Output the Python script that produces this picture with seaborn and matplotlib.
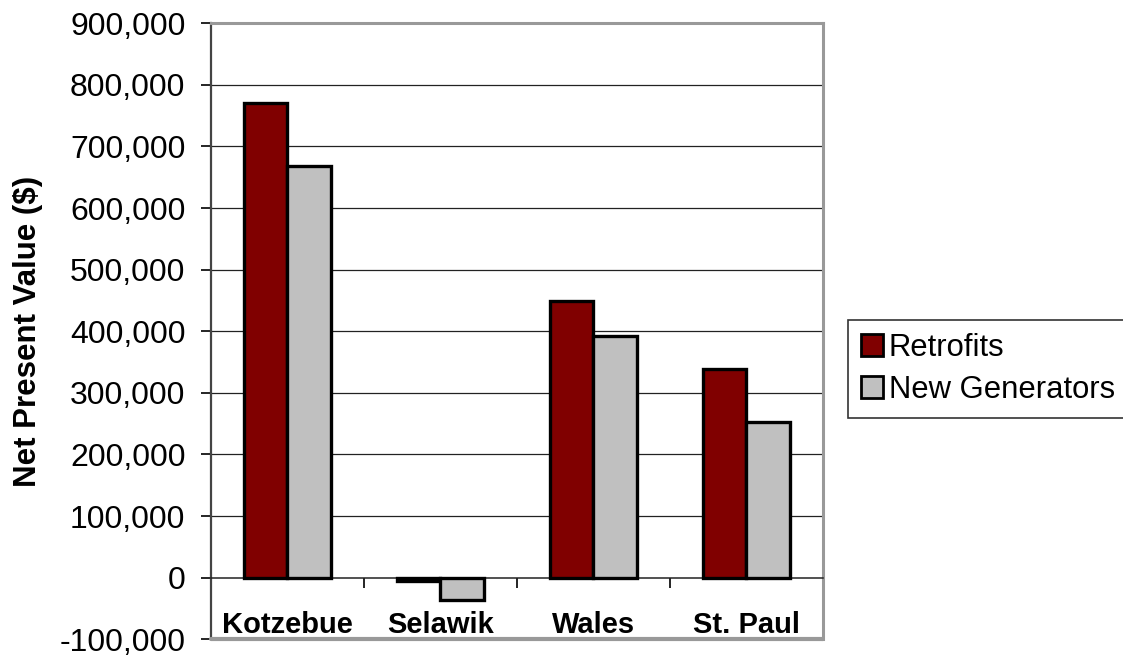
import matplotlib
matplotlib.use("Agg")
import matplotlib.pyplot as plt
import seaborn as sns
import pandas as pd
from matplotlib.ticker import FuncFormatter, FixedLocator

sites = ["Kotzebue", "Selawik", "Wales", "St. Paul"]
series = ["Retrofits", "New Generators"]
retrofits = [771000, -5000, 449000, 338000]
new_generators = [669000, -36000, 392000, 252000]
colors = ["#800000", "#C0C0C0"]

df = pd.DataFrame({
    "site": sites * 2,
    "series": [series[0]] * 4 + [series[1]] * 4,
    "value": retrofits + new_generators,
})

sns.set_style("white")
plt.rcParams["font.family"] = ["Liberation Sans", "DejaVu Sans"]

fig = plt.figure(figsize=(11.23, 6.56), dpi=100)
ax = fig.add_axes([210.7 / 1123, 1 - 639.3 / 656, (822.7 - 210.7) / 1123, (639.3 - 23.3) / 656])

sns.barplot(data=df, x="site", y="value", hue="series", palette=colors,
            width=0.57, edgecolor="black", linewidth=2.4, ax=ax, saturation=1,
            errorbar=None, zorder=3)

ax.set_ylim(-100000, 900000)
ax.set_xlim(-0.5, 3.5)
ax.set_yticks(range(-100000, 900001, 100000))
ax.yaxis.set_major_formatter(FuncFormatter(lambda v, p: f"{v:,.0f}"))
ax.tick_params(axis="y", labelsize=23, length=7.2, width=1.2, pad=11, color="black",
               direction="out", left=True, labelcolor="black")
for y in range(100000, 900001, 100000):
    ax.axhline(y, color="#222222", linewidth=0.9, zorder=1)

# x axis at zero
ax.spines["bottom"].set_position(("data", 0))
ax.spines["bottom"].set_color("#222222")
ax.spines["bottom"].set_linewidth(1.1)
ax.spines["left"].set_color("#444444")
ax.spines["left"].set_linewidth(1.6)
for s in ["top", "right"]:
    ax.spines[s].set_color("#999999")
    ax.spines[s].set_linewidth(2.2)
ax.axhline(-100000, color="#999999", linewidth=3.0, zorder=4, clip_on=False)

ax.set_xticks(range(len(sites)))
ax.set_xticklabels(sites, fontsize=21, fontweight="bold", color="black")
ax.tick_params(axis="x", which="major", length=0, pad=24)
ax.xaxis.set_minor_locator(FixedLocator([0.5, 1.5, 2.5]))
ax.tick_params(axis="x", which="minor", length=7.2, width=1.2, direction="out",
               color="black", bottom=True)

ax.set_xlabel("")
ax.set_ylabel("Net Present Value ($)", fontsize=22.5, fontweight="bold", labelpad=12,
              color="black")

leg = ax.legend(loc="center left", bbox_to_anchor=(848 / 1123, 1 - 369 / 656),
                bbox_transform=fig.transFigure, fontsize=22.3, frameon=True,
                fancybox=False, edgecolor="black", handlelength=0.72,
                handleheight=0.72, handletextpad=0.18, borderpad=0.42,
                labelspacing=0.38, borderaxespad=0)
leg.get_frame().set_linewidth(1.2)
for t in leg.get_texts():
    t.set_color("black")
for h in leg.legend_handles:
    h.set_edgecolor("black")
    h.set_linewidth(2)

fig.savefig("out.png", dpi=100)
